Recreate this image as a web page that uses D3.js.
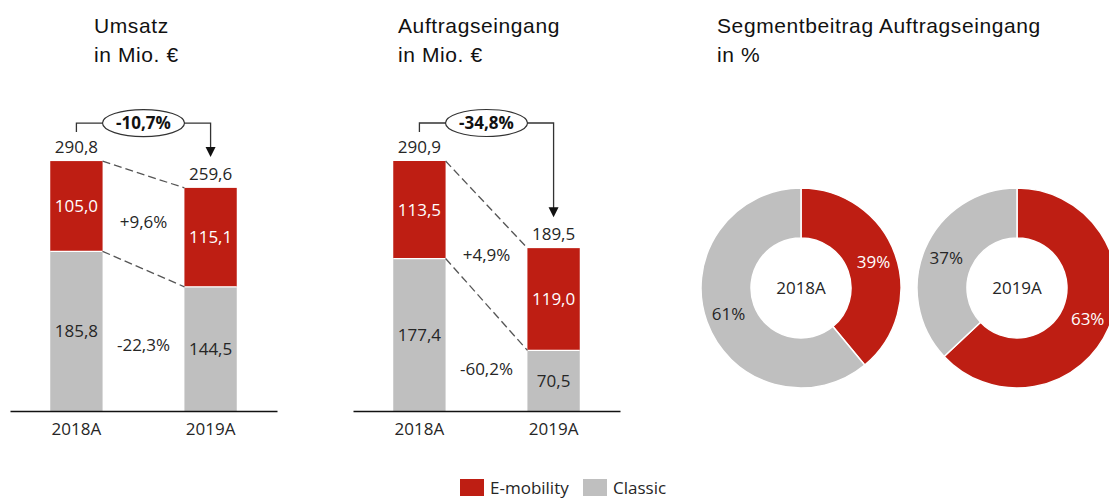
<!DOCTYPE html>
<html>
<head>
<meta charset="utf-8">
<script src="https://cdn.jsdelivr.net/npm/d3@7"></script>
<style>
  html, body { margin: 0; padding: 0; background: #fff; }
  svg { display: block; }
  .title { font-family: "Liberation Sans", Arial, sans-serif; font-size: 21px; letter-spacing: 0.6px; fill: #111; }
  .lbl { font-family: "Open Sans", "Noto Sans", sans-serif; font-size: 17px; fill: #262626; }
</style>
</head>
<body>
<svg id="chart" width="1109" height="498"></svg>
<script>
// data
const years = ['2018A', '2019A'];
const umsatzEmob = [105.0, 115.1];
const umsatzClassic = [185.8, 144.5];
const umsatzChange = [-10.7, 9.6, -22.3];   // total, e-mobility, classic
const auftragEmob = [113.5, 119.0];
const auftragClassic = [177.4, 70.5];
const auftragChange = [-34.8, 4.9, -60.2];
const share2018 = [39, 61];                   // e-mobility, classic
const share2019 = [63, 37];
const segments = ['E-mobility', 'Classic'];

const RED = '#BE1E13';
const GREY = '#BFBFBF';

const de = d3.formatLocale({ decimal: ',', thousands: '.', grouping: [3], currency: ['', ' €'], minus: '-' });
const fmt = de.format(',.1f');
const fmtPct = de.format('+,.1f');

const svg = d3.select('#chart');

// shared y scale for both bar charts
const y = d3.scaleLinear().domain([0, 290.9]).range([411, 161]);

function title(x, lines) {
	const t = svg.append('text').attr('class', 'title').attr('x', x).attr('y', 33);
	lines.forEach((l, i) => t.append('tspan').attr('x', x).attr('dy', i ? 29 : 0).text(l));
}

function barChart(x0, emob, classic, change) {
	const x = d3.scaleBand().domain(years).range([x0, x0 + 267])
	.paddingInner(0.61).paddingOuter(0.3);
	const bw = x.bandwidth();
	const rows = years.map((yr, i) => ({ year: yr, Classic: classic[i], 'E-mobility': emob[i] }));
	const stack = d3.stack().keys(['Classic', 'E-mobility'])(rows);
	const g = svg.append('g');

	g.selectAll('g.layer')
	.data(stack)
	.enter().append('g')
	.attr('fill', d => d.key === 'Classic' ? GREY : RED)
	.selectAll('rect')
	.data(d => d)
	.enter().append('rect')
	.attr('x', d => x(d.data.year))
	.attr('width', bw)
	.attr('y', d => y(d[1]))
	.attr('height', d => y(d[0]) - y(d[1]));

	// white separator between segments
	g.selectAll('line.sep')
	.data(stack[0])
	.enter().append('line')
	.attr('x1', d => x(d.data.year)).attr('x2', d => x(d.data.year) + bw)
	.attr('y1', d => y(d[1])).attr('y2', d => y(d[1]))
	.attr('stroke', '#fff').attr('stroke-width', 1.2);

	// segment values
	stack.forEach(layer => {
		g.selectAll(null)
		.data(layer)
		.enter().append('text')
		.attr('class', 'lbl')
		.attr('text-anchor', 'middle')
		.attr('x', d => x(d.data.year) + bw / 2)
		.attr('y', d => (y(d[0]) + y(d[1])) / 2)
		.attr('dy', '0.36em')
		.style('fill', layer.key === 'Classic' ? '#262626' : '#fff')
		.text(d => fmt(d[1] - d[0]));
	});

	const tops = stack[1];
	const splits = stack[0];
	// totals
	g.selectAll(null)
	.data(tops)
	.enter().append('text')
	.attr('class', 'lbl')
	.attr('text-anchor', 'middle')
	.attr('x', d => x(d.data.year) + bw / 2)
	.attr('y', d => y(d[1]) - 14)
	.attr('dy', '0.36em')
	.text(d => fmt(d[1]));

	// dashed connectors
	const xl = x(years[0]) + bw;
	const xr = x(years[1]);
	[[tops[0][1], tops[1][1]], [splits[0][1], splits[1][1]]].forEach(p => {
		g.append('line')
		.attr('x1', xl).attr('y1', y(p[0]))
		.attr('x2', xr).attr('y2', y(p[1]))
		.attr('stroke', '#555').attr('stroke-width', 1.3)
		.attr('stroke-dasharray', '8,4');
	});

	// change labels between bars
	const cx = (x(years[0]) + x(years[1])) / 2 + bw / 2;
	const topMid = (y(tops[0][1]) + y(tops[1][1]) + y(splits[0][1]) + y(splits[1][1])) / 4;
	const lowLine = (y(splits[0][1]) + y(splits[1][1])) / 2;
	const botMid = ((lowLine + y(0)) / 2 + (y(splits[1][1]) + y(0)) / 2) / 2;
	g.append('text').attr('class', 'lbl').attr('text-anchor', 'middle')
	.attr('x', cx).attr('y', topMid).attr('dy', '0.36em').text(fmtPct(change[1]) + '%');
	g.append('text').attr('class', 'lbl').attr('text-anchor', 'middle')
	.attr('x', cx).attr('y', botMid).attr('dy', '0.36em')
	.text(fmt(change[2]) + '%');

	// bracket with total change
	const c1 = x(years[0]) + bw / 2;
	const c2 = x(years[1]) + bw / 2;
	const hy = y(d3.max(tops, d => d[1])) - 38;
	const tip = y(tops[1][1]) - 31;
	g.append('path')
	.attr('d', `M${c1},${y(tops[0][1]) - 29}V${hy}H${c2}V${tip - 9}`)
	.attr('fill', 'none').attr('stroke', '#333').attr('stroke-width', 1.3);
	g.append('path')
	.attr('d', `M${c2 - 5},${tip - 10}L${c2 + 5},${tip - 10}L${c2},${tip}Z`)
	.attr('fill', '#111');
	g.append('ellipse')
	.attr('cx', cx).attr('cy', hy).attr('rx', 41).attr('ry', 13.5)
	.attr('fill', '#fff').attr('stroke', '#333').attr('stroke-width', 1.2);
	g.append('text').attr('class', 'lbl').attr('text-anchor', 'middle')
	.attr('x', cx).attr('y', hy).attr('dy', '0.36em')
	.style('font-weight', 700).style('fill', '#111')
	.text(fmt(change[0]) + '%');

	// axis
	const ax = g.append('g')
	.attr('transform', `translate(0,${y(0)})`)
	.call(d3.axisBottom(x).tickSize(0).tickSizeOuter(0).tickPadding(12));
	ax.select('.domain').attr('stroke', '#111').attr('stroke-width', 1.5);
	ax.selectAll('text').attr('class', 'lbl').attr('fill', null)
	.style('font-family', '"Open Sans", "Noto Sans", sans-serif').style('font-size', '17px');
}

title(94, ['Umsatz', 'in Mio. €']);
title(398, ['Auftragseingang', 'in Mio. €']);
title(717, ['Segmentbeitrag Auftragseingang', 'in %']);

barChart(10, umsatzEmob, umsatzClassic, umsatzChange);
barChart(353, auftragEmob, auftragClassic, auftragChange);

// donuts
const cxs = d3.scalePoint().domain(years).range([801, 1017]);
const pie = d3.pie().sort(null);
const arc = d3.arc().innerRadius(50).outerRadius(100);
const labelArc = d3.arc().innerRadius(77).outerRadius(77);

[share2018, share2019].forEach((share, k) => {
	const g = svg.append('g').attr('transform', `translate(${cxs(years[k])},288)`);
	const arcs = pie(share);
	g.selectAll('path')
	.data(arcs)
	.enter().append('path')
	.attr('d', arc)
	.attr('fill', (d, i) => i === 0 ? RED : GREY)
	.attr('stroke', '#fff').attr('stroke-width', 1.5);
	g.selectAll('text.pct')
	.data(arcs)
	.enter().append('text')
	.attr('class', 'lbl')
	.attr('text-anchor', 'middle')
	.attr('transform', d => `translate(${labelArc.centroid(d)})`)
	.attr('dy', '0.36em')
	.style('fill', (d, i) => i === 0 ? '#fff' : '#262626')
	.text(d => d.data + '%');
	g.append('text').attr('class', 'lbl').attr('text-anchor', 'middle')
	.attr('dy', '0.36em').text(years[k]);
});

// legend
const legX = [460, 583];
const leg = svg.append('g');
segments.forEach((s, i) => {
	leg.append('rect').attr('x', legX[i]).attr('y', 479).attr('width', 24).attr('height', 17)
	.attr('fill', i === 0 ? RED : GREY);
	leg.append('text').attr('class', 'lbl').attr('x', legX[i] + 30).attr('y', 488)
	.attr('dy', '0.36em').text(s);
});
</script>
</body>
</html>
